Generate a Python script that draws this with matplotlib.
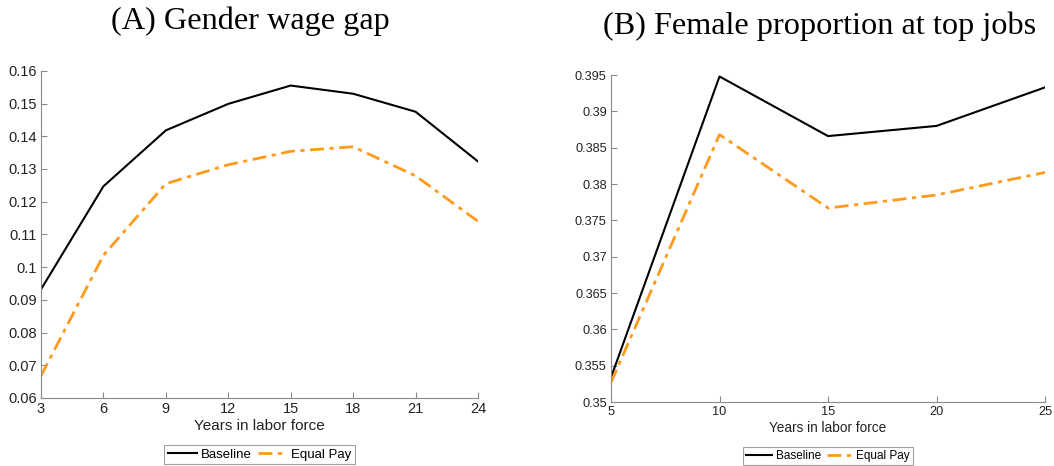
import matplotlib
matplotlib.use("Agg")
import matplotlib.pyplot as plt

years_a = [3, 6, 9, 12, 15, 18, 21, 24]
baseline_a = [0.0932, 0.1247, 0.1418, 0.1499, 0.1555, 0.1530, 0.1475, 0.1323]
equal_a = [0.0668, 0.1036, 0.1255, 0.1313, 0.1354, 0.1368, 0.1279, 0.1140]

years_b = [5, 10, 15, 20, 25]
baseline_b = [0.3534, 0.3948, 0.3866, 0.3880, 0.3933]
equal_b = [0.3527, 0.3868, 0.3767, 0.3785, 0.3816]

yticks_a = [0.06, 0.07, 0.08, 0.09, 0.1, 0.11, 0.12, 0.13, 0.14, 0.15, 0.16]
yticks_b = [0.35, 0.355, 0.36, 0.365, 0.37, 0.375, 0.38, 0.385, 0.39, 0.395]

plt.rcParams['font.family'] = ['Liberation Sans', 'DejaVu Sans']
orange = '#FF9A1A'
gray = '#8a8a8a'

fig = plt.figure(figsize=(10.54, 4.66), dpi=100)
axA = fig.add_axes([0.0389, 0.146, 0.4146, 0.702])
axB = fig.add_axes([0.5797, 0.137, 0.4118, 0.702])

panels = [
    (axA, years_a, baseline_a, equal_a, yticks_a, '(A) Gender wage gap', 0.06, 0.16,
     10.5, 11, 9.5, -0.125, (0.2372, 0.954)),
    (axB, years_b, baseline_b, equal_b, yticks_b, '(B) Female proportion at top jobs', 0.35, 0.395,
     9.2, 9.8, 8.5, -0.12, (0.7775, 0.943)),
]

for ax, x, b, e, yt, title, lo, hi, tfs, xlfs, lfs, legy, tpos in panels:
    ax.plot(x, b, color='black', lw=1.5, label='Baseline')
    ax.plot(x, e, color=orange, lw=2.0, ls=(0, (5, 2, 1.5, 2)), label='Equal Pay')
    ax.set_xlim(x[0], x[-1])
    ax.set_ylim(lo, hi)
    for s in ['top', 'right']:
        ax.spines[s].set_visible(False)
    for s in ['left', 'bottom']:
        ax.spines[s].set_color(gray)
        ax.spines[s].set_linewidth(0.8)
    ax.tick_params(direction='in', length=4, color=gray, labelsize=tfs, labelcolor='#222222', pad=3)
    ax.set_yticks(yt)
    ax.set_yticklabels([('%g' % v) for v in yt])
    ax.set_xticks(x)
    ax.set_xlabel('Years in labor force', fontsize=xlfs, labelpad=2, color='#222222')
    fig.text(tpos[0], tpos[1], title, fontsize=23.2, family=['Liberation Serif'],
             ha='center', va='center')
    leg = ax.legend(loc='upper center', bbox_to_anchor=(0.5, legy), ncol=2, fontsize=lfs,
                    frameon=True, fancybox=False, edgecolor=gray, handlelength=2.2,
                    handletextpad=0.3, columnspacing=0.5, borderpad=0.25)
    leg.get_frame().set_linewidth(0.8)

fig.savefig('out.png', dpi=100)
